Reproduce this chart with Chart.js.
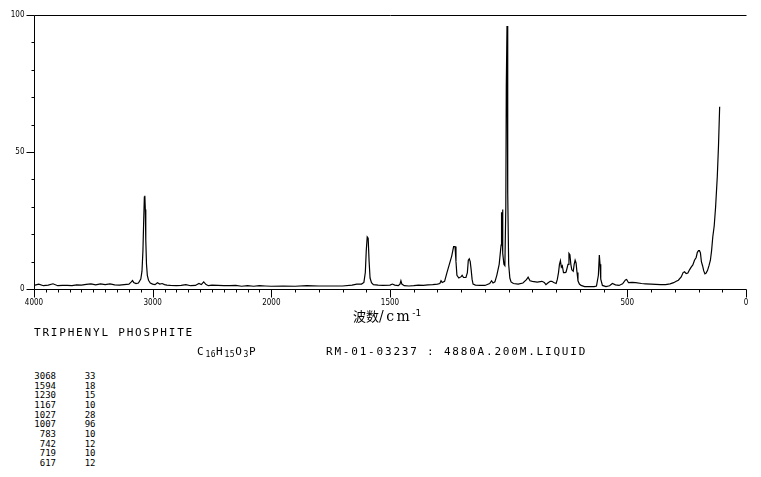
<!DOCTYPE html>
<html>
<head>
<meta charset="utf-8">
<script src="https://cdn.jsdelivr.net/npm/chart.js@4.4.1/dist/chart.umd.min.js"></script>
<style>
  html, body { margin: 0; padding: 0; background: #fff; }
  #wrap { position: relative; width: 761px; height: 477px; overflow: hidden; background: #fff; }
  #c { position: absolute; left: 0; top: 0; }
  .t { position: absolute; color: #000; white-space: pre; }
  #xtitle { left: 353px; top: 306px; }
  #xtitle .cjk { font-family: "Noto Sans CJK SC", sans-serif; font-size: 13px; }
  #xtitle .unit { font-family: "DejaVu Serif", serif; font-size: 14px; letter-spacing: 2.5px; }
  #xtitle sup { font-family: "DejaVu Sans", sans-serif; font-size: 9px; vertical-align: 5px; }
  .mono { font-family: "DejaVu Sans Mono", monospace; font-size: 11px; letter-spacing: 1.8px; line-height: 12px; }
  .mono sub { font-size: 8px; letter-spacing: 0.5px; vertical-align: -2px; }
  .pk { font-family: "DejaVu Sans Mono", monospace; font-size: 9px; line-height: 9px; text-align: right; }
</style>
</head>
<body>
<div id="wrap">
  <canvas id="c" width="761" height="320"></canvas>
  <div class="t" id="xtitle"><span class="cjk">波数</span><span class="unit">/cm</span><sup>-1</sup></div>
  <div class="t mono" id="name" style="left:34px; top:327px;"></div>
  <div class="t mono" id="formula" style="left:197px; top:346px;"></div>
  <div class="t mono" id="info" style="left:326px; top:346px;"></div>
  <div id="peaks"></div>
</div>
<script>
// ---- data ----
const compoundName = "TRIPHENYL PHOSPHITE";
const formulaParts = [["C","16"],["H","15"],["O","3"],["P",""]];
const sampleInfo = "RM-01-03237 : 4880A.200M.LIQUID";

const peakWavenumbers = [3068, 1594, 1230, 1167, 1027, 1007, 783, 742, 719, 617];
const peakIntensities = [33, 18, 15, 10, 28, 96, 10, 12, 10, 12];

const xTickValues = [4000,3900,3800,3700,3600,3500,3400,3300,3200,3100,3000,2900,2800,2700,2600,2500,2400,2300,2200,2100,2000,1900,1800,1700,1600,1500,1400,1300,1200,1100,1000,900,800,700,600,500,400,300,200,100,0];
const xTickLabels = [4000, 3000, 2000, 1500, 500, 0];
const yTickLabels = [0, 50, 100];

const wavenumbers = [
  4000,3960,3920,3880,3840,3800,3760,3720,3680,3640,3600,3560,3520,3480,3440,3400,3360,3320,3280,3240,
  3200,3180,3170,3160,3140,3120,3100,3090,3082,3075,3070,3066,3062,3058,3052,3045,3035,3020,3000,2980,
  2960,2940,2920,2900,2880,2850,2800,2760,2720,2680,2640,2610,2590,2570,2550,2530,2500,2450,2400,2350,
  2300,2250,2200,2150,2100,2050,2000,1950,1900,1850,1800,1750,1700,1660,1640,1620,1610,1604,1600,1596,
  1592,1588,1584,1578,1570,1550,1530,1500,1490,1480,1465,1458,1454,1450,1440,1420,1400,1380,1360,1340,
  1320,1300,1290,1285,1280,1270,1260,1250,1240,1232,1226,1222,1218,1210,1200,1196,1190,1180,1174,1170,
  1166,1162,1158,1154,1150,1140,1120,1100,1080,1072,1066,1058,1050,1040,1032,1030,1028,1026,1024,1020,
  1016,1012,1010,1007,1004,1000,995,990,980,960,940,925,918,910,900,880,860,850,843,835,
  825,818,810,800,795,790,786,782,778,774,769,762,758,750,746,742,738,734,728,724,
  720,716,712,708,702,695,680,660,640,630,622,618,615,612,605,590,575,563,550,535,
  520,508,503,495,480,465,440,423,400,380,360,339,320,305,294,285,273,265,259,252,
  245,238,231,224,217,210,205,200,196,192,188,183,178,173,168,162,156,150,145,140,
  134,128,121,116,111
];
const intensities = [
  1.3,1.8,1.2,1.4,1.9,1.2,1.3,1.3,1.2,1.5,1.4,1.7,1.9,1.5,1.9,1.6,1.9,1.5,1.4,1.6,
  1.8,2.6,3.1,2.4,2.0,2.2,3.6,6.5,14,26,33.5,34,29,18,9,5,3.2,2.2,1.8,1.6,
  2.3,1.8,2.0,1.6,1.4,1.3,1.2,1.3,1.6,1.2,1.3,2.0,1.6,2.6,1.6,1.2,1.4,1.3,1.2,1.2,
  1.3,1.0,1.2,1.0,1.2,1.1,1.0,1.1,1.0,1.2,1.1,1.1,1.1,1.4,1.8,1.8,2.4,6,14,19,
  18.5,10,4,2.3,1.6,1.4,1.3,1.4,1.8,1.4,1.2,1.8,3.0,1.8,1.2,1.1,1.2,1.4,1.3,1.5,
  1.6,1.8,2.0,3.0,2.4,2.8,6,9,12,15.5,15.5,10,5,4,4.5,5,4.2,4.2,6,10.5,
  11,10,7,3.5,1.8,1.4,1.3,1.3,2.0,3.0,2.2,2.6,5,9,16,28,22,29,13,9,
  8.5,30,74,96,35,9,4,2.6,2.0,1.8,2.2,3.4,4.3,3.0,2.8,2.5,2.8,2.4,1.6,2.2,
  2.8,2.8,2.4,2.0,3.5,6,9,10.3,8,8.5,6,6,6.2,9,13,12.5,9,7,6.5,9,
  10.5,9.5,6,3,1.8,1.3,0.9,0.9,0.9,1.1,5,12.4,9,3.6,1.3,0.9,1.2,2.0,1.5,1.3,
  1.9,3.3,3.5,2.3,2.4,2.3,2.0,1.9,1.8,1.7,1.6,1.6,1.9,2.3,2.8,3.2,4.4,6.0,6.3,5.6,
  5.8,7.0,8.0,8.8,10.5,11.5,13.4,14,14,13.2,10,8.5,6.6,5.5,5.8,6.8,8.5,10.5,14,19,
  23,30,41,52,66.5
];

// ---- text (real DOM text) ----
document.getElementById('name').textContent = compoundName;
document.getElementById('formula').innerHTML = formulaParts.map(p => p[0] + (p[1] ? '<sub>' + p[1] + '</sub>' : '')).join('');
document.getElementById('info').textContent = sampleInfo;
const peaksDiv = document.getElementById('peaks');
peakWavenumbers.forEach((w, i) => {
  const top = 372 + i * 9.67;
  const a = document.createElement('div');
  a.className = 't pk'; a.style.left = '16px'; a.style.width = '40px'; a.style.top = top + 'px';
  a.textContent = String(w);
  const b = document.createElement('div');
  b.className = 't pk'; b.style.left = '70px'; b.style.width = '25.5px'; b.style.top = top + 'px';
  b.textContent = String(peakIntensities[i]);
  peaksDiv.appendChild(a); peaksDiv.appendChild(b);
});

// ---- custom split wavenumber scale: 4000-2000 compressed 2x ----
class SplitScale extends Chart.LinearScale {
  buildTicks() { return xTickValues.map(v => ({ value: v })); }
  _u(v) { return v > 2000 ? 2000 + (v - 2000) / 2 : v; }
  getPixelForValue(v) { return this.left + this.width * (3000 - this._u(v)) / 3000; }
  getValueForPixel(p) {
    const u = 3000 - (p - this.left) / this.width * 3000;
    return u > 2000 ? 2000 + (u - 2000) * 2 : u;
  }
}
SplitScale.id = 'split';
SplitScale.defaults = {};
Chart.register(SplitScale);

const tickFont = { family: "'DejaVu Sans Condensed', 'DejaVu Sans', sans-serif", size: 8 };

const framePlugin = {
  id: 'frame',
  afterDraw(chart) {
    const { ctx, chartArea: a, scales: { x, y } } = chart;
    ctx.save();
    ctx.strokeStyle = '#000';
    ctx.lineWidth = 1;
    ctx.beginPath();
    const L = Math.round(a.left) + 0.5, R = Math.round(a.right) + 0.5;
    const T = Math.round(a.top) + 0.5, B = Math.round(a.bottom) + 0.5;
    ctx.moveTo(L, T); ctx.lineTo(R, T);
    ctx.moveTo(L, T); ctx.lineTo(L, B);
    ctx.moveTo(L, B); ctx.lineTo(R, B);
    x.ticks.forEach(t => {
      const px = Math.round(x.getPixelForValue(t.value)) + 0.5;
      const len = xTickLabels.includes(t.value) ? 8 : 3;
      ctx.moveTo(px, B); ctx.lineTo(px, B + len);
    });
    y.ticks.forEach(t => {
      const py = Math.round(y.getPixelForValue(t.value)) + 0.5;
      const len = yTickLabels.includes(t.value) ? 8 : 3;
      ctx.moveTo(L, py); ctx.lineTo(L - len, py);
    });
    ctx.stroke();
    ctx.restore();
  }
};

new Chart(document.getElementById('c').getContext('2d'), {
  type: 'line',
  data: {
    datasets: [{
      data: wavenumbers.map((w, i) => ({ x: w, y: intensities[i] })),
      borderColor: '#000',
      borderWidth: 1.2,
      pointRadius: 0,
      tension: 0,
      fill: false
    }]
  },
  options: {
    responsive: false,
    animation: false,
    devicePixelRatio: 1,
    layout: { padding: { top: 15, right: 15, left: 0, bottom: 0 } },
    plugins: { legend: { display: false }, tooltip: { enabled: false } },
    scales: {
      x: {
        type: 'split',
        min: 0, max: 4000,
        grid: { display: false, drawTicks: false },
        border: { display: false },
        ticks: {
          autoSkip: false, maxRotation: 0, minRotation: 0,
          padding: 9, color: '#000', font: tickFont,
          callback: v => xTickLabels.includes(v) ? String(v) : ''
        },
        afterFit(s) { s.height = 31; }
      },
      y: {
        min: 0, max: 100,
        grid: { display: false, drawTicks: false },
        border: { display: false },
        ticks: {
          stepSize: 10, padding: 9.5, color: '#000', font: tickFont,
          callback: v => yTickLabels.includes(v) ? String(v) : ''
        },
        afterFit(s) { s.width = 34; }
      }
    }
  },
  plugins: [framePlugin]
});
</script>
</body>
</html>
